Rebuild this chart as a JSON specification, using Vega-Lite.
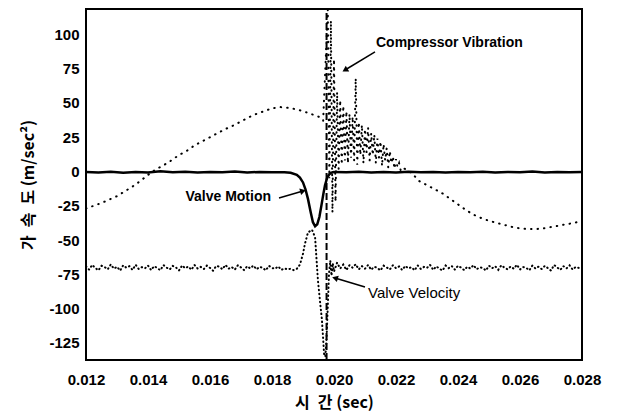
{
  "$schema": "https://vega.github.io/schema/vega-lite/v6.json",
  "width": 496,
  "height": 351,
  "autosize": {"type": "none"},
  "padding": {"left": 86, "top": 9, "right": 35, "bottom": 54},
  "background": "white",
  "config": {
    "view": {"stroke": "black", "strokeWidth": 2},
    "font": "Liberation Sans"
  },
  "datasets": {
    "vib": [
      {"t":0.01200,"a":-27},{"t":0.01225,"a":-25},{"t":0.01250,"a":-23},{"t":0.01275,"a":-20.5},{"t":0.01300,"a":-18},{"t":0.01325,"a":-14.5},{"t":0.01350,"a":-11},{"t":0.01375,"a":-7},{"t":0.01400,"a":-2.5},{"t":0.01425,"a":1.5},{"t":0.01450,"a":4.5},{"t":0.01475,"a":8},{"t":0.01500,"a":12},{"t":0.01525,"a":15},{"t":0.01550,"a":19},{"t":0.01575,"a":22},{"t":0.01600,"a":25},{"t":0.01625,"a":28},{"t":0.01650,"a":31},{"t":0.01675,"a":33.5},{"t":0.01700,"a":36.5},{"t":0.01725,"a":39.5},{"t":0.01750,"a":42},{"t":0.01775,"a":44},{"t":0.01800,"a":46},{"t":0.01825,"a":47},{"t":0.01850,"a":46.5},{"t":0.01875,"a":45.5},{"t":0.01900,"a":44},{"t":0.01925,"a":42},{"t":0.01950,"a":40},{"t":0.01965,"a":37},
      {"t":0.01980,"a":118},{"t":0.01985,"a":-5},{"t":0.01990,"a":110},{"t":0.01995,"a":-30},{"t":0.02000,"a":82},{"t":0.02005,"a":-22},{"t":0.02010,"a":58},{"t":0.02015,"a":2},{"t":0.02020,"a":52},{"t":0.02025,"a":5},{"t":0.02030,"a":48},{"t":0.02035,"a":8},{"t":0.02040,"a":44},{"t":0.02045,"a":6},{"t":0.02050,"a":42},{"t":0.02055,"a":10},{"t":0.02060,"a":40},{"t":0.02065,"a":8},{"t":0.02070,"a":68},{"t":0.02075,"a":5},{"t":0.02080,"a":36},{"t":0.02085,"a":12},{"t":0.02090,"a":34},{"t":0.02095,"a":6},{"t":0.02100,"a":31},{"t":0.02105,"a":14},{"t":0.02110,"a":32},{"t":0.02115,"a":8},{"t":0.02120,"a":28},{"t":0.02125,"a":12},{"t":0.02130,"a":27},{"t":0.02135,"a":6},{"t":0.02140,"a":24},{"t":0.02145,"a":10},{"t":0.02150,"a":22},{"t":0.02155,"a":4},{"t":0.02160,"a":20},{"t":0.02165,"a":8},{"t":0.02170,"a":17},{"t":0.02175,"a":3},{"t":0.02180,"a":15},{"t":0.02185,"a":6},{"t":0.02190,"a":11},{"t":0.02195,"a":2},{"t":0.02200,"a":9},{"t":0.02205,"a":3},{"t":0.02210,"a":6},{"t":0.02215,"a":1},{"t":0.02220,"a":3},
      {"t":0.02250,"a":-1},{"t":0.02275,"a":-7},{"t":0.02300,"a":-10},{"t":0.02325,"a":-13},{"t":0.02350,"a":-16},{"t":0.02375,"a":-20},{"t":0.02400,"a":-24},{"t":0.02425,"a":-28},{"t":0.02450,"a":-31.5},{"t":0.02475,"a":-34},{"t":0.02500,"a":-36},{"t":0.02525,"a":-37.5},{"t":0.02550,"a":-39},{"t":0.02575,"a":-40.5},{"t":0.02600,"a":-41.5},{"t":0.02625,"a":-42},{"t":0.02650,"a":-42},{"t":0.02675,"a":-41.5},{"t":0.02700,"a":-40.5},{"t":0.02725,"a":-39.5},{"t":0.02750,"a":-38.5},{"t":0.02775,"a":-37.5},{"t":0.02800,"a":-36}
    ],
    "mot": [
      {"t":0.0120,"a":-0.3},{"t":0.0124,"a":-0.8},{"t":0.0128,"a":-0.2},{"t":0.0132,"a":-0.9},{"t":0.0136,"a":-0.4},{"t":0.0140,"a":-0.7},{"t":0.0144,"a":0.1},{"t":0.0148,"a":-0.6},{"t":0.0152,"a":-0.2},{"t":0.0156,"a":-0.8},{"t":0.0160,"a":-0.3},{"t":0.0164,"a":-0.6},{"t":0.0168,"a":-0.1},{"t":0.0172,"a":-0.7},{"t":0.0176,"a":-0.3},{"t":0.0180,"a":-0.6},{"t":0.0184,"a":-0.5},{"t":0.0186,"a":-1.0},{"t":0.0188,"a":-2.5},{"t":0.0189,"a":-4.5},{"t":0.0190,"a":-8},{"t":0.01908,"a":-13},{"t":0.01916,"a":-20},{"t":0.01925,"a":-30},{"t":0.01932,"a":-37},{"t":0.01939,"a":-40},{"t":0.01946,"a":-38.5},{"t":0.01953,"a":-33},{"t":0.01960,"a":-24},{"t":0.01966,"a":-16},{"t":0.01971,"a":-10},{"t":0.01978,"a":-4.5},{"t":0.01985,"a":-2},{"t":0.01992,"a":-0.8},{"t":0.0200,"a":-0.3},{"t":0.0204,"a":-0.6},{"t":0.0208,"a":-0.2},{"t":0.0212,"a":-0.8},{"t":0.0216,"a":-0.4},{"t":0.0220,"a":-0.7},{"t":0.0224,"a":-0.2},{"t":0.0228,"a":-0.6},{"t":0.0232,"a":-0.3},{"t":0.0236,"a":-0.8},{"t":0.0240,"a":-0.4},{"t":0.0244,"a":-0.6},{"t":0.0248,"a":-0.2},{"t":0.0252,"a":-0.7},{"t":0.0256,"a":-0.3},{"t":0.0260,"a":-0.6},{"t":0.0264,"a":-0.1},{"t":0.0268,"a":-0.7},{"t":0.0272,"a":-0.4},{"t":0.0276,"a":-0.6},{"t":0.0280,"a":-0.3}
    ],
    "vel": [
      {"t":0.0120,"a":-69.2},{"t":0.0121,"a":-71.6},{"t":0.0122,"a":-68.1},{"t":0.0123,"a":-70.4},{"t":0.0124,"a":-72.1},{"t":0.0125,"a":-68.8},{"t":0.0126,"a":-69.7},{"t":0.0127,"a":-71.4},{"t":0.0128,"a":-67.8},{"t":0.0129,"a":-70.9},{"t":0.0130,"a":-69.5},{"t":0.0131,"a":-72.3},{"t":0.0132,"a":-68.4},{"t":0.0133,"a":-70.2},{"t":0.0134,"a":-69.1},{"t":0.0135,"a":-71.8},{"t":0.0136,"a":-68.0},{"t":0.0137,"a":-71.1},{"t":0.0138,"a":-69.8},{"t":0.0139,"a":-70.7},{"t":0.0140,"a":-68.6},{"t":0.0141,"a":-71.9},{"t":0.0142,"a":-69.0},{"t":0.0143,"a":-70.5},{"t":0.0144,"a":-72.0},{"t":0.0145,"a":-68.3},{"t":0.0146,"a":-70.1},{"t":0.0147,"a":-71.5},{"t":0.0148,"a":-68.9},{"t":0.0149,"a":-69.9},{"t":0.0150,"a":-72.2},{"t":0.0151,"a":-68.5},{"t":0.0152,"a":-70.6},{"t":0.0153,"a":-69.3},{"t":0.0154,"a":-71.7},{"t":0.0155,"a":-68.2},{"t":0.0156,"a":-70.8},{"t":0.0157,"a":-69.6},{"t":0.0158,"a":-71.2},{"t":0.0159,"a":-68.7},{"t":0.0160,"a":-70.3},{"t":0.0161,"a":-72.4},{"t":0.0162,"a":-68.9},{"t":0.0163,"a":-69.4},{"t":0.0164,"a":-71.3},{"t":0.0165,"a":-68.1},{"t":0.0166,"a":-70.9},{"t":0.0167,"a":-69.7},{"t":0.0168,"a":-71.6},{"t":0.0169,"a":-68.4},{"t":0.0170,"a":-70.0},{"t":0.0171,"a":-72.0},{"t":0.0172,"a":-69.1},{"t":0.0173,"a":-70.7},{"t":0.0174,"a":-68.6},{"t":0.0175,"a":-71.4},{"t":0.0176,"a":-69.5},{"t":0.0177,"a":-70.3},{"t":0.0178,"a":-72.1},{"t":0.0179,"a":-68.8},{"t":0.0180,"a":-70.4},{"t":0.0181,"a":-71.0},{"t":0.0182,"a":-69.2},{"t":0.0183,"a":-71.8},{"t":0.0184,"a":-70.6},{"t":0.0185,"a":-71.5},{"t":0.0186,"a":-70.9},{"t":0.0187,"a":-72.0},{"t":0.0188,"a":-71.0},
      {"t":0.01890,"a":-68},{"t":0.01900,"a":-60},{"t":0.01906,"a":-53},{"t":0.01916,"a":-44.5},{"t":0.01929,"a":-42.5},{"t":0.01939,"a":-48},{"t":0.01948,"a":-79},{"t":0.01955,"a":-95},{"t":0.01961,"a":-108},{"t":0.01968,"a":-133},{"t":0.01972,"a":-135},{"t":0.01976,"a":-122},{"t":0.01980,"a":-98},{"t":0.01984,"a":-74},{"t":0.01988,"a":-65},{"t":0.01992,"a":-76},{"t":0.01996,"a":-67},{"t":0.02000,"a":-73},
      {"t":0.0201,"a":-66.5},{"t":0.0202,"a":-70.8},{"t":0.0203,"a":-67.9},{"t":0.0204,"a":-71.9},{"t":0.0205,"a":-68.3},{"t":0.0206,"a":-70.2},{"t":0.0207,"a":-67.6},{"t":0.0208,"a":-71.4},{"t":0.0209,"a":-69.0},{"t":0.0210,"a":-70.9},{"t":0.0211,"a":-68.2},{"t":0.0212,"a":-71.7},{"t":0.0213,"a":-69.4},{"t":0.0214,"a":-70.4},{"t":0.0215,"a":-72.2},{"t":0.0216,"a":-68.7},{"t":0.0217,"a":-70.0},{"t":0.0218,"a":-71.5},{"t":0.0219,"a":-68.4},{"t":0.0220,"a":-70.6},{"t":0.0221,"a":-69.3},{"t":0.0222,"a":-71.9},{"t":0.0223,"a":-68.9},{"t":0.0224,"a":-70.7},{"t":0.0225,"a":-69.8},{"t":0.0226,"a":-72.1},{"t":0.0227,"a":-68.5},{"t":0.0228,"a":-71.1},{"t":0.0229,"a":-69.6},{"t":0.0230,"a":-70.3},{"t":0.0231,"a":-68.1},{"t":0.0232,"a":-71.8},{"t":0.0233,"a":-69.2},{"t":0.0234,"a":-70.9},{"t":0.0235,"a":-72.3},{"t":0.0236,"a":-68.6},{"t":0.0237,"a":-70.5},{"t":0.0238,"a":-69.0},{"t":0.0239,"a":-71.6},{"t":0.0240,"a":-68.8},{"t":0.0241,"a":-70.1},{"t":0.0242,"a":-72.0},{"t":0.0243,"a":-69.5},{"t":0.0244,"a":-70.8},{"t":0.0245,"a":-68.3},{"t":0.0246,"a":-71.3},{"t":0.0247,"a":-69.9},{"t":0.0248,"a":-70.4},{"t":0.0249,"a":-72.2},{"t":0.0250,"a":-68.7},{"t":0.0251,"a":-70.6},{"t":0.0252,"a":-69.1},{"t":0.0253,"a":-71.7},{"t":0.0254,"a":-68.4},{"t":0.0255,"a":-70.2},{"t":0.0256,"a":-71.4},{"t":0.0257,"a":-69.3},{"t":0.0258,"a":-70.9},{"t":0.0259,"a":-68.0},{"t":0.0260,"a":-71.5},{"t":0.0261,"a":-69.7},{"t":0.0262,"a":-70.3},{"t":0.0263,"a":-72.1},{"t":0.0264,"a":-68.6},{"t":0.0265,"a":-70.8},{"t":0.0266,"a":-69.4},{"t":0.0267,"a":-71.2},{"t":0.0268,"a":-68.9},{"t":0.0269,"a":-70.5},{"t":0.0270,"a":-72.3},{"t":0.0271,"a":-68.2},{"t":0.0272,"a":-70.0},{"t":0.0273,"a":-71.8},{"t":0.0274,"a":-69.1},{"t":0.0275,"a":-70.7},{"t":0.0276,"a":-68.5},{"t":0.0277,"a":-71.6},{"t":0.0278,"a":-69.6},{"t":0.0279,"a":-70.4},{"t":0.0280,"a":-71.0}
    ],
    "marker": [{"t":0.01976,"a":-137.5,"a2":118.5}],
    "arrows": [
      {"label":"Compressor Vibration","t":0.020355,"a":74.0,"t0":0.021323,"a0":87.2},
      {"label":"Valve Motion","t":0.0190,"a":-14.2,"t0":0.018226,"a0":-19.3},
      {"label":"Valve Velocity","t":0.020032,"a":-77.7,"t0":0.0210,"a0":-84.2}
    ],
    "xmaj": [{"t":0.012},{"t":0.014},{"t":0.016},{"t":0.018},{"t":0.020},{"t":0.022},{"t":0.024},{"t":0.026},{"t":0.028}],
    "xmin": [{"t":0.013},{"t":0.015},{"t":0.017},{"t":0.019},{"t":0.021},{"t":0.023},{"t":0.025},{"t":0.027}],
    "ymaj": [{"a":-125},{"a":-100},{"a":-75},{"a":-50},{"a":-25},{"a":0},{"a":25},{"a":50},{"a":75},{"a":100}],
    "ymin": [{"a":-112.5},{"a":-87.5},{"a":-62.5},{"a":-37.5},{"a":-12.5},{"a":12.5},{"a":37.5},{"a":62.5},{"a":87.5},{"a":112.5}]
  },
  "encoding": {
    "x": {
      "field": "t", "type": "quantitative",
      "scale": {"domain": [0.012, 0.028], "nice": false, "zero": false},
      "axis": {
        "values": [0.012,0.014,0.016,0.018,0.020,0.022,0.024,0.026,0.028],
        "format": ".3f",
        "ticks": false,
        "domain": false, "grid": false,
        "labelFlush": false, "labelOverlap": false,
        "labelFont": "Liberation Sans", "labelFontSize": 15, "labelFontWeight": "bold", "labelColor": "black",
        "labelPadding": 12,
        "title": "시\u2002간 (sec)",
        "titleFont": "Noto Sans CJK KR", "titleFontSize": 16, "titleFontWeight": "bold", "titleColor": "black",
        "titlePadding": 7
      }
    },
    "y": {
      "field": "a", "type": "quantitative",
      "scale": {"domain": [-137.5, 118.5], "nice": false, "zero": false},
      "axis": {
        "values": [-125,-100,-75,-50,-25,0,25,50,75,100],
        "labelExpr": "'' + datum.value",
        "ticks": false,
        "domain": false, "grid": false,
        "labelOverlap": false,
        "labelFont": "Liberation Sans", "labelFontSize": 15, "labelFontWeight": "bold", "labelColor": "black",
        "labelPadding": 7,
        "title": "가\u2002속\u2002도 (m/sec²)",
        "titleFont": "Noto Sans CJK KR", "titleFontSize": 16, "titleFontWeight": "bold", "titleColor": "black",
        "titlePadding": 12
      }
    }
  },
  "layer": [
    {
      "data": {"name": "vib"},
      "mark": {"type": "line", "color": "black", "strokeWidth": 2, "strokeDash": [0.5, 6], "strokeCap": "round"}
    },
    {
      "data": {"name": "vel"},
      "mark": {"type": "line", "color": "black", "strokeWidth": 2, "strokeDash": [0.5, 3.5], "strokeCap": "round"}
    },
    {
      "data": {"name": "mot"},
      "mark": {"type": "line", "color": "black", "strokeWidth": 2.5}
    },
    {
      "data": {"name": "marker"},
      "mark": {"type": "rule", "color": "black", "strokeWidth": 2, "strokeDash": [7, 3]},
      "encoding": {"y2": {"field": "a2"}}
    },
    {
      "data": {"name": "arrows"},
      "mark": {"type": "rule", "color": "black", "strokeWidth": 1.5},
      "encoding": {"x2": {"field": "t0"}, "y2": {"field": "a0"}}
    },
    {
      "data": {"name": "arrows"},
      "transform": [{"filter": "datum.label == 'Compressor Vibration'"}],
      "mark": {"type": "point", "shape": "triangle-up", "filled": true, "color": "black", "opacity": 1, "size": 45, "angle": 239}
    },
    {
      "data": {"name": "arrows"},
      "transform": [{"filter": "datum.label == 'Valve Motion'"}],
      "mark": {"type": "point", "shape": "triangle-up", "filled": true, "color": "black", "opacity": 1, "size": 45, "angle": 74}
    },
    {
      "data": {"name": "arrows"},
      "transform": [{"filter": "datum.label == 'Valve Velocity'"}],
      "mark": {"type": "point", "shape": "triangle-up", "filled": true, "color": "black", "opacity": 1, "size": 45, "angle": 287}
    },
    {
      "data": {"name": "xmaj"},
      "mark": {"type": "rule", "color": "black", "strokeWidth": 2.5},
      "encoding": {"y": {"datum": -137.5}, "y2": {"datum": -130.5}}
    },
    {
      "data": {"name": "xmin"},
      "mark": {"type": "rule", "color": "black", "strokeWidth": 2},
      "encoding": {"y": {"datum": -137.5}, "y2": {"datum": -133.5}}
    },
    {
      "data": {"name": "ymaj"},
      "mark": {"type": "rule", "color": "black", "strokeWidth": 2.5},
      "encoding": {"x": {"datum": 0.012}, "x2": {"datum": 0.0123}}
    },
    {
      "data": {"name": "ymin"},
      "mark": {"type": "rule", "color": "black", "strokeWidth": 2},
      "encoding": {"x": {"datum": 0.012}, "x2": {"datum": 0.01217}}
    },
    {
      "data": {"values": [{"t": 0.021355, "a": 93.7, "label": "Compressor Vibration"}]},
      "mark": {"type": "text", "align": "left", "baseline": "middle", "font": "Liberation Sans", "fontSize": 14, "fontWeight": "bold", "color": "black"},
      "encoding": {"text": {"field": "label"}}
    },
    {
      "data": {"values": [{"t": 0.017968, "a": -18.6, "label": "Valve Motion"}]},
      "mark": {"type": "text", "align": "right", "baseline": "middle", "font": "Liberation Sans", "fontSize": 14, "fontWeight": "bold", "color": "black"},
      "encoding": {"text": {"field": "label"}}
    },
    {
      "data": {"values": [{"t": 0.021097, "a": -88.6, "label": "Valve Velocity"}]},
      "mark": {"type": "text", "align": "left", "baseline": "middle", "font": "Liberation Sans", "fontSize": 15, "fontWeight": "normal", "color": "black"},
      "encoding": {"text": {"field": "label"}}
    }
  ]
}
